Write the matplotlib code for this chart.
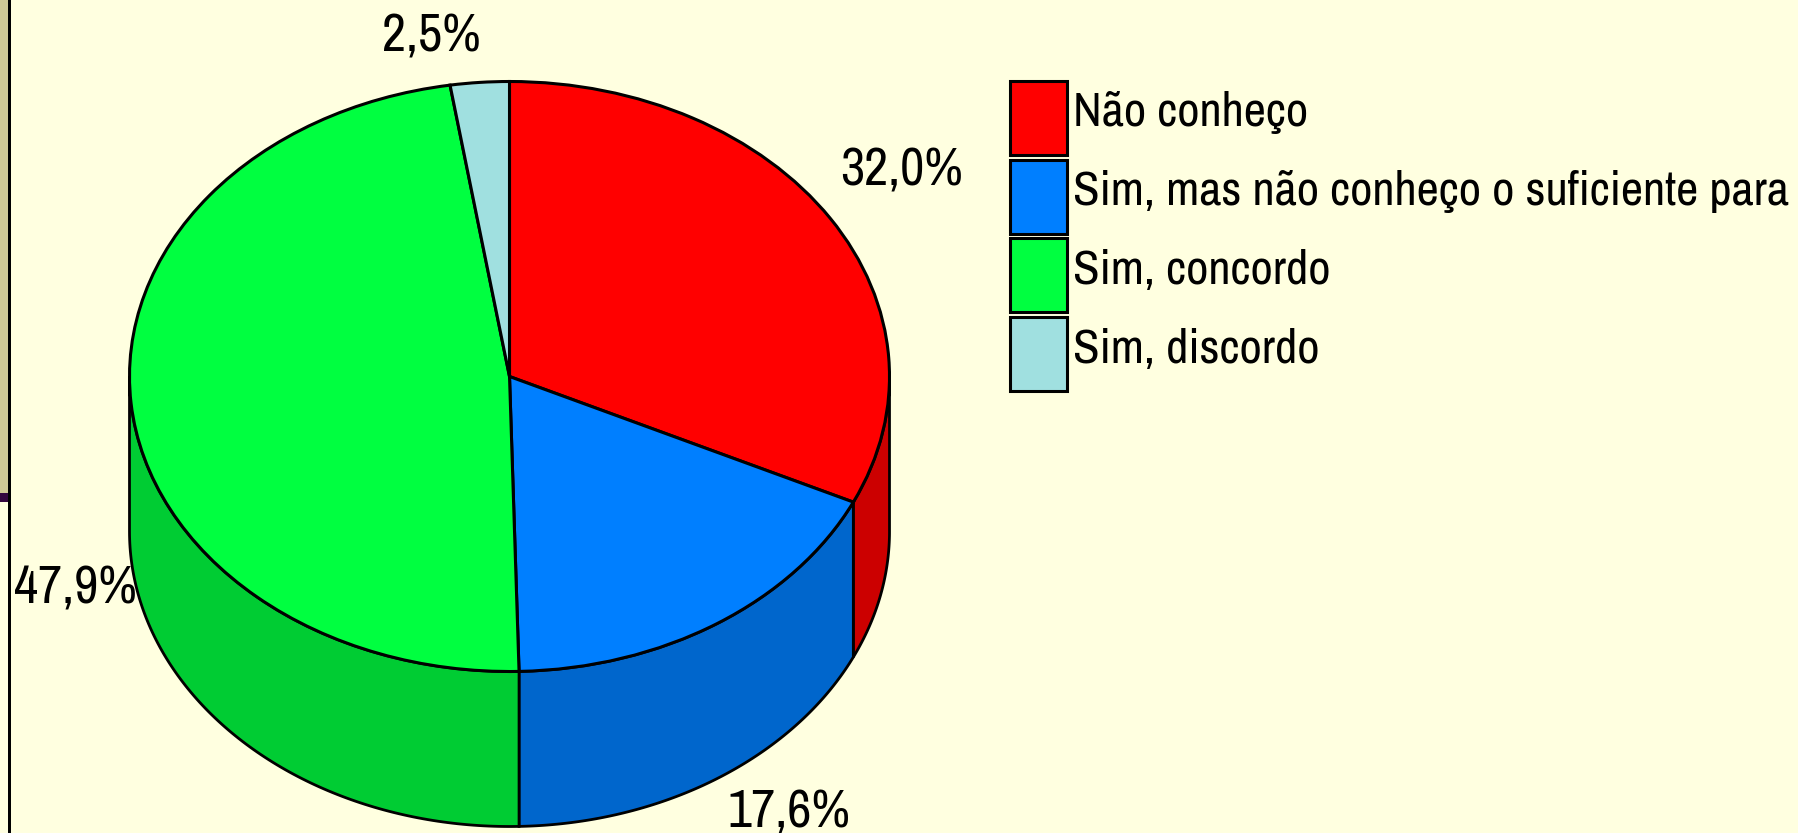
import numpy as np
import matplotlib
matplotlib.use('Agg')
import matplotlib.pyplot as plt
from matplotlib.patches import Patch, Rectangle

labels = ['Não conheço', 'Sim, mas não conheço o suficiente para', 'Sim, concordo', 'Sim, discordo']
values = [32.0, 17.6, 47.9, 2.5]
pct_labels = ['32,0%', '17,6%', '47,9%', '2,5%']
top_colors = ['#FF0000', '#007FFF', '#00FF40', '#A0E0E0']
side_colors = ['#CC0000', '#0066CC', '#00CC33', '#80B3B3']

W, H = 1799, 833
cx, cy = 509.5, 376.5
rx, ry = 380.0, 295.0
depth = 155.0 / ry

plt.rcParams['font.family'] = ['Archivo Narrow', 'Liberation Sans', 'DejaVu Sans']

fig = plt.figure(figsize=(W / 100, H / 100), dpi=100, facecolor='#FFFFE0')
ax = fig.add_axes([0, 0, 1, 1])

# side wall first, the pie top goes over it
start = 0.0
for val, col in zip(values, side_colors):
    end = start + val * 3.6
    a0, a1 = max(start, 90), min(end, 270)
    if a1 > a0:
        t = np.radians(np.linspace(a0, a1, 120))
        x = np.sin(t)
        y = np.cos(t)
        ax.fill(np.r_[x, x[::-1]], np.r_[y, y[::-1] - depth], facecolor=col,
                edgecolor='black', linewidth=2.0, zorder=1)
    start = end

ax.pie(values, startangle=90, counterclock=False, colors=top_colors, radius=1,
       wedgeprops={'edgecolor': 'black', 'linewidth': 2.2, 'zorder': 2})
ax.set_aspect('auto')
ax.set_xlim(-cx / rx, (W - cx) / rx)
ax.set_ylim((cy - H) / ry, cy / ry)
ax.axis('off')

# slide leftovers on the left edge
pix = fig.transFigure
fig.patches.append(Rectangle((0, 1 - 493 / H), 8 / W, 493 / H, transform=pix, facecolor='#CFC996', edgecolor='none'))
fig.patches.append(Rectangle((0, 1 - 502 / H), 8 / W, 9 / H, transform=pix, facecolor='#33063F', edgecolor='none'))
fig.patches.append(Rectangle((8 / W, 0), 3 / W, 1, transform=pix, facecolor='black', edgecolor='none'))

pct_pos = [(902, 170), (789, 812), (75, 589), (431, 37)]
for txt, (px, py) in zip(pct_labels, pct_pos):
    fig.text(px / W, 1 - py / H, txt, fontsize=38, ha='center', va='center', color='black')

handles = [Patch(facecolor=c, edgecolor='black', linewidth=2.2) for c in top_colors]
leg = fig.legend(handles, labels, loc='upper left', bbox_to_anchor=(1010 / W, 1 - 81 / H),
                 bbox_transform=pix, frameon=False, fontsize=35, borderpad=0, borderaxespad=0,
                 handlelength=1.17, handleheight=1.96, handletextpad=0.12, labelspacing=0.1)
# labels sit a little above the swatch centre
for t in leg.get_texts():
    t.set_position((0, 7))

fig.savefig('out.png', dpi=100, facecolor=fig.get_facecolor())
